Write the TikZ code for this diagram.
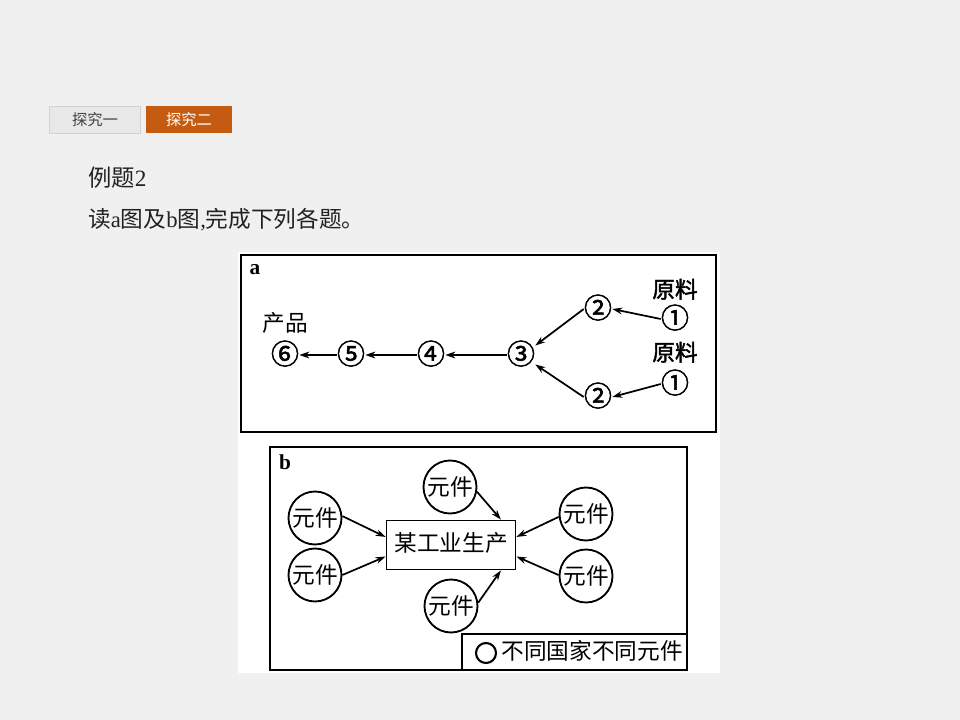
\documentclass[tikz,border=0pt]{standalone}
\usepackage{fontspec}
\setmainfont{Liberation Serif}
\newfontfamily\cjk{Noto Sans CJK SC}
\newfontfamily\cjkb{Noto Sans CJK SC}[FakeBold=1.8]
\usetikzlibrary{arrows.meta}
\definecolor{slidebg}{HTML}{F0F0F0}
\definecolor{tabgray}{HTML}{E8E8E8}
\definecolor{tabline}{HTML}{D2D2D2}
\definecolor{taborange}{HTML}{C55A11}
\definecolor{ink}{HTML}{222222}

\begin{document}
\begin{tikzpicture}[x=0.75pt,y=-0.75pt,
  tab/.style={minimum height=20.25pt,inner sep=0pt,font=\cjk\fontsize{11.5}{12}\selectfont},
  num/.style={inner sep=0pt,font=\cjkb\fontsize{21}{21}\selectfont,text height=1.38em,text depth=0em},
  lbl/.style={inner sep=0pt,font=\cjk\fontsize{17}{17}\selectfont,text height=1.02em,text depth=0em},
  blbl/.style={lbl,font=\cjkb\fontsize{17}{17}\selectfont},
  part/.style={circle,draw,line width=1.4pt,minimum size=39.75pt,inner sep=0pt,font=\cjk\fontsize{17}{17}\selectfont},
  arr/.style={-{Stealth[length=7.5pt,width=5pt]},line width=1.3pt},
  frame/.style={line width=1.6pt}]
% slide background and the white picture area
\fill[slidebg] (0,0) rectangle (960,720);
\fill[white] (238,252) rectangle (720,673);
% tabs and heading
\node[tab,fill=tabgray,draw=tabline,minimum width=68.25pt,text=ink!85] (tab1) at (95,119.5) {探究一};
\node[tab,fill=taborange,minimum width=64.5pt,text=white] (tab2) at (189,119.5) {探究二};
\node[anchor=west,inner sep=0pt,text=ink,font=\fontsize{17.5}{18}\selectfont] (title) at (88,178) {{\cjk 例题}2};
\node[anchor=west,inner sep=0pt,text=ink,font=\fontsize{17}{18}\selectfont] (task) at (88,220)
  {{\cjk 读}a{\cjk 图及}b{\cjk 图},{\cjk 完成下列各题。}};
% figure a: the chain of stages
\draw[frame] (241,255) rectangle (716,432);
\node[inner sep=0pt,font=\bfseries\fontsize{16}{16}\selectfont] (laba) at (255,270) {a};
\node[num] (n6) at (285,355) {⑥};
\node[num] (n5) at (351,355) {⑤};
\node[num] (n4) at (431,355) {④};
\node[num] (n3) at (521,355) {③};
\node[num] (n2u) at (598,309) {②};
\node[num] (n2d) at (598,397) {②};
\node[num] (n1u) at (675,319) {①};
\node[num] (n1d) at (675,384) {①};
\node[lbl] (prod) at (285,325) {产品};
\node[blbl] (rawu) at (675,291) {原料};
\node[blbl] (rawd) at (675,354) {原料};
\draw[arr] (n5.west) -- (n6.east);
\draw[arr] (n4.west) -- (n5.east);
\draw[arr] (n3.west) -- (n4.east);
\draw[arr] (n2u.west) -- (n3.north east);
\draw[arr] (n2d.west) -- (n3.south east);
\draw[arr] (n1u.west) -- (n2u.east);
\draw[arr] (n1d.west) -- (n2d.east);
% figure b: parts from many countries
\draw[frame] (270,447) rectangle (687,670);
\node[inner sep=0pt,font=\bfseries\fontsize{16}{16}\selectfont] (labb) at (285,462) {b};
\node[draw,line width=1.4pt,minimum width=96.75pt,minimum height=36.75pt,inner sep=0pt,
  font=\cjk\fontsize{17}{17}\selectfont,text height=1.02em,text depth=0em] (ind) at (451,545) {某工业生产};
\node[part] (plu) at (315,518) {元件};
\node[part] (pld) at (315,575) {元件};
\node[part] (ptop) at (450,487) {元件};
\node[part] (pbot) at (451,606) {元件};
\node[part] (pru) at (586,514) {元件};
\node[part] (prd) at (586,576) {元件};
\draw[arr] (plu.4) -- (ind.173);
\draw[arr] (pld.0) -- (ind.190);
\draw[arr] (ptop.-10) -- (ind.27);
\draw[arr] (pbot.7) -- (ind.-27);
\draw[arr] (pru.186) -- (ind.7);
\draw[arr] (prd.178) -- (ind.-10);
% legend
\node[draw,frame,minimum width=168.75pt,minimum height=27pt,inner sep=0pt] (legend) at (574.5,652) {};
\node[circle,draw,line width=1.6pt,minimum size=15pt,inner sep=0pt] (legsym) at (486,653) {};
\node[lbl] (legtxt) at (592,653) {不同国家不同元件};
\end{tikzpicture}
\end{document}
